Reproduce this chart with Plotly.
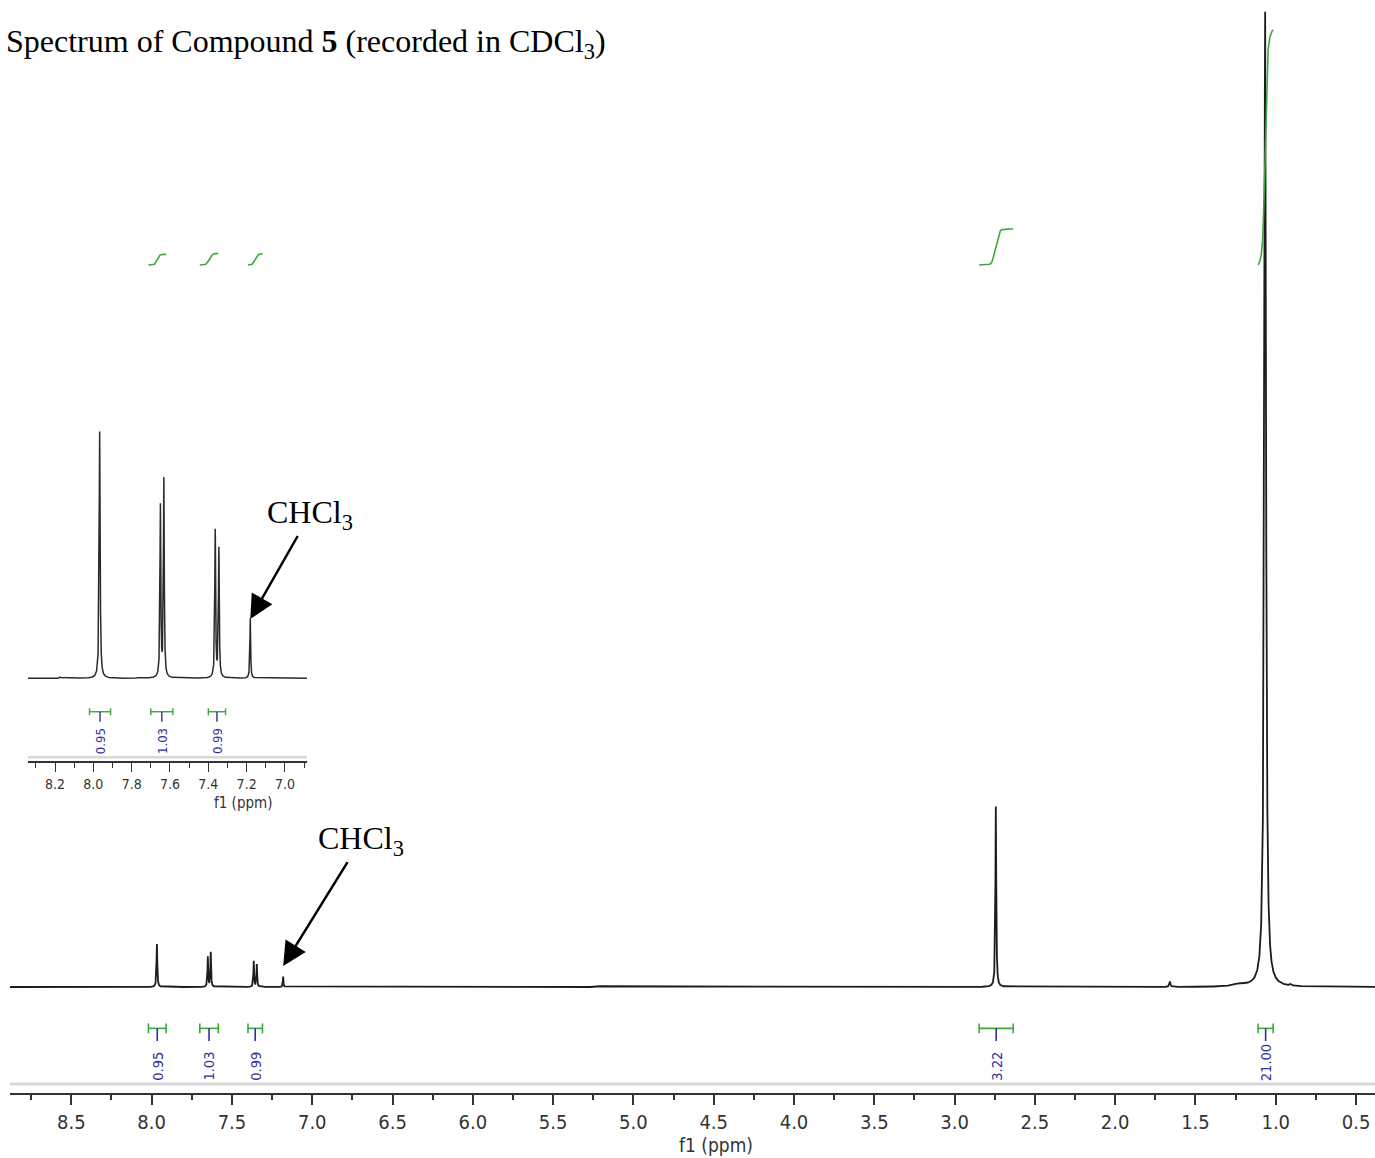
import numpy as np
import plotly.graph_objects as go

# ---------------- data ----------------
# peak list: chemical shift (ppm), height (arb. units, tallest = 100), half-width (ppm)
peak_ppm = [7.967, 7.650, 7.632, 7.364, 7.345, 7.181, 8.175, 7.765, 5.21, 2.743, 1.659, 1.225, 1.066, 0.907]
peak_height = [4.44, 3.08, 3.56, 2.65, 2.32, 1.08, 0.02, 0.015, 0.08, 18.6, 0.55, 0.25, 100.0, 0.15]
peak_hwhm = [0.0028, 0.0025, 0.0025, 0.0025, 0.0025, 0.0022, 0.003, 0.003, 0.004, 0.003, 0.004, 0.04, 0.0065, 0.006]

# integration regions
integ_hi = [8.02, 7.70, 7.40, 2.847, 1.110]
integ_lo = [7.91, 7.585, 7.31, 2.635, 1.016]
integ_val = [0.95, 1.03, 0.99, 3.22, 21.00]
integ_label = ["0.95", "1.03", "0.99", "3.22", "21.00"]
inset_integrals = [0, 1, 2]

solvent_ppm = 7.181
solvent_label = "CHCl<sub>3</sub>"
title_text = "Spectrum of Compound <b>5</b> (recorded in CDCl<sub>3</sub>)"
axis_title = "f1 (ppm)"

# ---------------- layout constants ----------------
W, H = 1375, 1158
main_x_range = [8.882, 0.382]
inset_x_range = [8.341, 6.885]
main_y_range = [-10.87, 101.23]
inset_y_range = [-1.487, 4.646]

SANS = "DejaVu Sans Condensed, DejaVu Sans, sans-serif"
SERIF = "Liberation Serif, Times New Roman, serif"
LINE = "#1c1c1c"
GREEN = "#3da63d"
BLUE = "#30309a"
TICK = "#333333"


def px(x):
    return x / W


def py(y):
    return 1 - y / H


def spectrum(x):
    y = np.zeros_like(x)
    for p, h, w in zip(peak_ppm, peak_height, peak_hwhm):
        y += h * w * w / (w * w + (x - p) ** 2)
    return y


x_main = np.arange(main_x_range[1], main_x_range[0], 0.0004)
y_main = spectrum(x_main)
x_ins = np.arange(inset_x_range[1], inset_x_range[0], 0.0002)
y_ins = spectrum(x_ins)

fig = go.Figure()

fig.add_trace(go.Scatter(x=x_main, y=y_main, mode="lines",
                         line=dict(color=LINE, width=1.8), hoverinfo="skip",
                         xaxis="x", yaxis="y"))
fig.add_trace(go.Scatter(x=x_ins, y=y_ins, mode="lines",
                         line=dict(color="#2a2a2a", width=1.5), hoverinfo="skip",
                         xaxis="x2", yaxis="y2"))

# integral curves (main)
integ_base = 74.05
integ_scale = 1.149
for lo, hi, v in zip(integ_lo, integ_hi, integ_val):
    xs = np.arange(hi, lo, -0.0004)
    c = np.cumsum(spectrum(xs))
    c = c / c[-1]
    k = max(3, len(c) // 4)
    pad = np.concatenate([np.full(k, c[0]), c, np.full(k, c[-1])])
    cs = np.convolve(pad, np.ones(k) / k, mode="same")[k:-k]
    cs = (cs - cs[0]) / (cs[-1] - cs[0])
    fig.add_trace(go.Scatter(x=xs, y=integ_base + v * integ_scale * cs, mode="lines",
                             line=dict(color=GREEN, width=1.6), hoverinfo="skip",
                             xaxis="x", yaxis="y"))


def brackets(idx, yb, cap, ystem, xa, ya, lw):
    gx, gy, bx, by = [], [], [], []
    for i in idx:
        lo, hi = integ_lo[i], integ_hi[i]
        mid = (lo + hi) / 2
        gx += [hi, lo, None, hi, hi, None, lo, lo, None]
        gy += [yb, yb, None, yb - cap, yb + cap, None, yb - cap, yb + cap, None]
        bx += [mid, mid, None]
        by += [yb, ystem, None]
    fig.add_trace(go.Scatter(x=gx, y=gy, mode="lines", line=dict(color=GREEN, width=lw),
                             hoverinfo="skip", xaxis=xa, yaxis=ya))
    fig.add_trace(go.Scatter(x=bx, y=by, mode="lines", line=dict(color=BLUE, width=lw),
                             hoverinfo="skip", xaxis=xa, yaxis=ya))


brackets(range(len(integ_val)), -4.24, 0.51, -5.54, "x", "y", 1.6)
brackets(inset_integrals, -0.601, 0.063, -0.781, "x2", "y2", 1.4)

annotations = []
for i in range(len(integ_val)):
    mid = (integ_lo[i] + integ_hi[i]) / 2
    annotations.append(dict(x=mid, y=-9.85, xref="x", yref="y", text=integ_label[i],
                            textangle=-90, showarrow=False, xanchor="center", yanchor="bottom",
                            font=dict(family=SANS, size=14.5, color=BLUE)))
for i in inset_integrals:
    mid = (integ_lo[i] + integ_hi[i]) / 2
    annotations.append(dict(x=mid, y=-1.40, xref="x2", yref="y2", text=integ_label[i],
                            textangle=-90, showarrow=False, xanchor="center", yanchor="bottom",
                            font=dict(family=SANS, size=13, color=BLUE)))

# title
annotations.append(dict(x=px(4), y=py(44), xref="paper", yref="paper", text=title_text,
                        showarrow=False, xanchor="left", yanchor="middle",
                        font=dict(family=SERIF, size=32, color="black")))
# solvent labels with arrows
annotations.append(dict(x=solvent_ppm, y=2.15, xref="x", yref="y", ax=78, ay=-126,
                        text=solvent_label, showarrow=True, arrowhead=2, arrowsize=1.9,
                        arrowwidth=2.5, arrowcolor="black", standoff=0,
                        font=dict(family=SERIF, size=32, color="black")))
annotations.append(dict(x=solvent_ppm, y=1.067, xref="x2", yref="y2", ax=60, ay=-105,
                        text=solvent_label, showarrow=True, arrowhead=2, arrowsize=1.9,
                        arrowwidth=2.5, arrowcolor="black", standoff=0,
                        font=dict(family=SERIF, size=32, color="black")))
# axis titles
annotations.append(dict(x=px(716), y=py(1145), xref="paper", yref="paper", text=axis_title,
                        showarrow=False, xanchor="center", yanchor="middle",
                        font=dict(family=SANS, size=19, color=TICK)))
annotations.append(dict(x=px(243), y=py(803), xref="paper", yref="paper", text=axis_title,
                        showarrow=False, xanchor="center", yanchor="middle",
                        font=dict(family=SANS, size=15, color=TICK)))

shapes = [
    dict(type="line", xref="x domain", yref="y", x0=0, x1=1, y0=-9.95, y1=-9.95,
         line=dict(color="#d8d8d8", width=3)),
    dict(type="line", xref="x2 domain", yref="y2", x0=0, x1=1, y0=-1.421, y1=-1.421,
         line=dict(color="#d8d8d8", width=2.5)),
]

fig.update_layout(
    width=W, height=H, margin=dict(l=0, r=0, t=0, b=0),
    paper_bgcolor="white", plot_bgcolor="rgba(0,0,0,0)", showlegend=False,
    xaxis=dict(domain=[px(10), 1], range=main_x_range, showgrid=False, zeroline=False,
               showline=True, linecolor="#333333", linewidth=2,
               ticks="outside", ticklen=10, tickwidth=1.5, tickcolor=TICK,
               tickmode="linear", tick0=0.5, dtick=0.5, tickformat=".1f",
               ticklabeloverflow="allow",
               minor=dict(ticks="outside", ticklen=5, tickwidth=1.5, tickcolor=TICK, dtick=0.25, tick0=0.25),
               tickfont=dict(family=SANS, size=20, color=TICK), anchor="y"),
    yaxis=dict(domain=[py(1093), 1], range=main_y_range, visible=False, anchor="x"),
    xaxis2=dict(domain=[px(28), px(307)], range=inset_x_range, showgrid=False, zeroline=False,
                showline=True, linecolor="#333333", linewidth=1.5,
                ticks="outside", ticklen=9, tickwidth=1.3, tickcolor=TICK,
                tickmode="linear", tick0=7.0, dtick=0.2, tickformat=".1f",
                minor=dict(ticks="outside", ticklen=5, tickwidth=1.3, tickcolor=TICK, dtick=0.1, tick0=7.0),
                tickfont=dict(family=SANS, size=14, color=TICK), anchor="y2"),
    yaxis2=dict(domain=[py(761), py(420)], range=inset_y_range, visible=False, anchor="x2"),
    annotations=annotations, shapes=shapes,
)

fig.write_html("out.html", config={"displayModeBar": False},
               post_script="document.body.style.margin='0px';")
